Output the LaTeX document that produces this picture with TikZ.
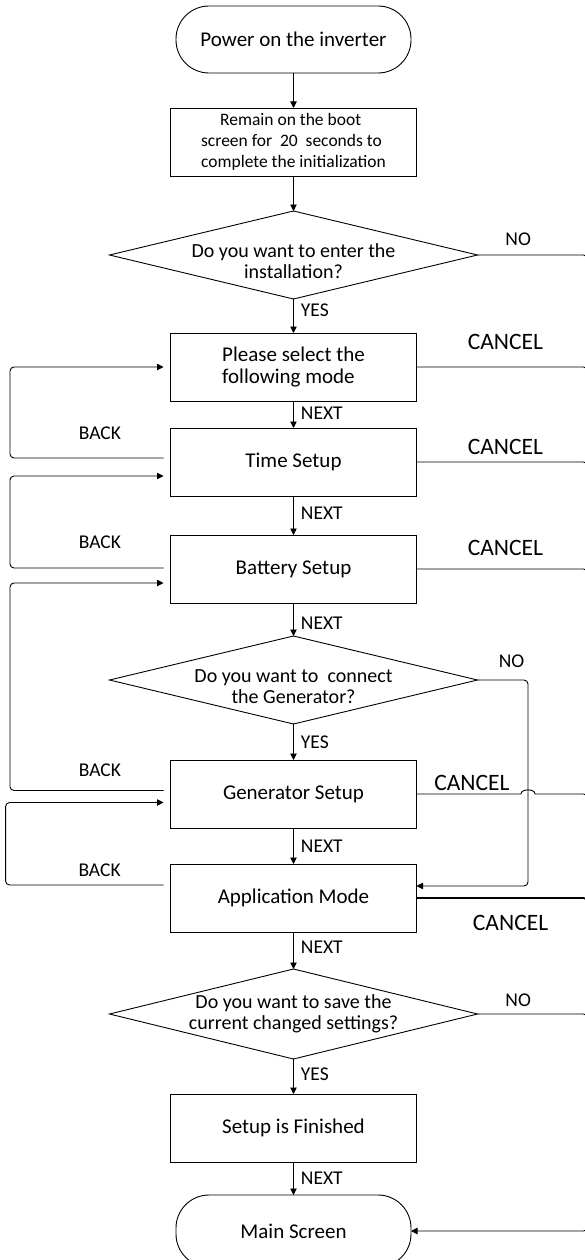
\documentclass[tikz,border=0pt]{standalone}
\usepackage{fontspec}
\setmainfont{Carlito}
\usepackage{tikz}
\usetikzlibrary{positioning, arrows.meta, shapes.geometric, calc}

\begin{document}
\begin{tikzpicture}[
  x=1pt, y=-1pt,
  node distance=35pt,
  every node/.style={font=\fontsize{21}{21.5}\selectfont, text=black},
  terminal/.style={rectangle, draw, line width=0.9pt, outer sep=0pt, rounded corners=33pt, minimum width=235pt, minimum height=67pt, align=center},
  process/.style={rectangle, draw, line width=0.9pt, outer sep=0pt, minimum width=246pt, minimum height=68pt, align=center},
  decision/.style={diamond, draw, line width=0.9pt, outer sep=0pt, aspect=4.18, inner xsep=-8pt, inner ysep=-8pt, minimum width=368pt, minimum height=88pt, align=center, font=\fontsize{20}{21}\selectfont},
  tag/.style={inner sep=0pt, font=\fontsize{19.5}{21}\selectfont},
  cancel/.style={inner sep=0pt, font=\fontsize{23.5}{25}\selectfont},
  arrow/.style={-{Triangle[length=6.5pt, width=6.5pt]}, line width=0.9pt},
  link/.style={line width=0.9pt, rounded corners=4pt},
  back/.style={arrow, rounded corners=4pt, shorten <=7pt, shorten >=7pt}
]
  \useasboundingbox (0,0) rectangle (585,1260);

  % Main column
  \node[terminal] (power) at (293.5,39.5) {Power on the inverter};
  \node[process, below=35pt of power, align=left, font=\fontsize{17.5}{21}\selectfont] (boot) {\hspace*{19pt}Remain on the boot\\ screen for~~20~~seconds to\\ complete the initialization};
  \node[decision, below=35pt of boot, text height=47pt] (enter) {Do you want to enter the\\ installation?};
  \node[process, below=34pt of enter, align=left] (mode) {Please select the\\ following mode};
  \node[process, below=27pt of mode] (time) {Time Setup};
  \node[process, below=39pt of time] (battery) {Battery Setup};
  \node[decision, below=33pt of battery, text height=47pt] (gen) {Do you want to~~connect\\ the Generator?};
  \node[process, below=36pt of gen] (gensetup) {Generator Setup};
  \node[process, below=36pt of gensetup] (appmode) {Application Mode};
  \node[decision, below=37pt of appmode, minimum height=90pt] (save) {Do you want to save the\\ current changed settings?};
  \node[process, below=35pt of save] (finish) {Setup is Finished};
  \node[terminal, below=33pt of finish, minimum height=72pt] (mainscr) {Main Screen};

  % Side buses
  \coordinate (rbus) at (587.5,0);
  \coordinate (lbus) at (10,0);
  \coordinate (lbusapp) at (5.6,0);
  \coordinate (nobus) at (528,0);

  % Forward flow
  \draw[arrow] (power) -- (boot);
  \draw[arrow] (boot) -- (enter);
  \draw[arrow] (enter) -- node[tag, right=7pt, pos=.32] {YES} (mode);
  \draw[arrow] (mode) -- node[tag, right=7pt, pos=.45] {NEXT} (time);
  \draw[arrow] (time) -- node[tag, right=7pt, pos=.45] {NEXT} (battery);
  \draw[arrow] (battery) -- node[tag, right=7pt, pos=.6] {NEXT} (gen);
  \draw[arrow] (gen) -- node[tag, right=7pt, pos=.5] {YES} (gensetup);
  \draw[arrow] (gensetup) -- node[tag, right=7pt, pos=.5] {NEXT} (appmode);
  \draw[arrow] (appmode) -- node[tag, right=7pt, pos=.4] {NEXT} (save);
  \draw[arrow] (save) -- node[tag, right=7pt, pos=.43] {YES} (finish);
  \draw[arrow] (finish) -- node[tag, right=7pt, pos=.5] {NEXT} (mainscr);

  % BACK loops
  \draw[back] ([yshift=4pt]time.west) -- node[tag, above=17.7pt, pos=.44] {BACK} ([yshift=4pt]time.west -| lbus) |- (mode.west);
  \draw[back] ([yshift=1pt]battery.west) -- node[tag, above=18.7pt, pos=.44] {BACK} ([yshift=1pt]battery.west -| lbus) |- ([yshift=-14pt]time.west);
  \draw[back] ([yshift=3.5pt]gensetup.west) -- node[tag, above=13.7pt, pos=.44] {BACK} ([yshift=3.5pt]gensetup.west -| lbus) |- ([yshift=-14pt]battery.west);
  \draw[back] ([yshift=13pt]appmode.west) -- node[tag, above=7.7pt, pos=.43] {BACK} ([yshift=13pt]appmode.west -| lbusapp) |- ([yshift=-8.5pt]gensetup.west);

  % NO branches
  \draw[arrow, rounded corners=4pt] (enter.east) -- node[tag, above=8.7pt, pos=.37] {NO} (enter.east -| rbus) |- (mainscr.east);
  \draw[arrow, rounded corners=4pt] (gen.east) -- node[tag, above=11.7pt, pos=.675] {NO} (gen.east -| nobus) |- ([yshift=12pt]appmode.east);
  \draw[link] (save.east) -- node[tag, above=6.7pt, pos=.37] {NO} (save.east -| rbus) -- ++(0,12);

  % CANCEL lines
  \draw[link] (mode.east) -- node[cancel, above=16.5pt, pos=.52] {CANCEL} (mode.east -| rbus) -- ++(0,12);
  \draw[link] (time.east) -- node[cancel, above=6.5pt, pos=.52] {CANCEL} (time.east -| rbus) -- ++(0,12);
  \draw[link] (battery.east) -- node[cancel, above=12.5pt, pos=.52] {CANCEL} (battery.east -| rbus) -- ++(0,12);
  \draw[line width=0.9pt] (gensetup.east) -- node[cancel, above=2.5pt, pos=.53] {CANCEL} ($(gensetup.east -| nobus)+(-7,0)$)
    .. controls +(0,-5.5) and +(0,-5.5) .. ($(gensetup.east -| nobus)+(7,0)$)
    -- ($(gensetup.east -| rbus)+(-10,0)$) [rounded corners=4pt] -- (gensetup.east -| rbus) -- ++(0,12);
  \draw[link, line width=1.8pt] (appmode.east) -- node[cancel, below=16.5pt, pos=.55] {CANCEL} (appmode.east -| rbus) -- ++(0,12);

\end{tikzpicture}
\end{document}
